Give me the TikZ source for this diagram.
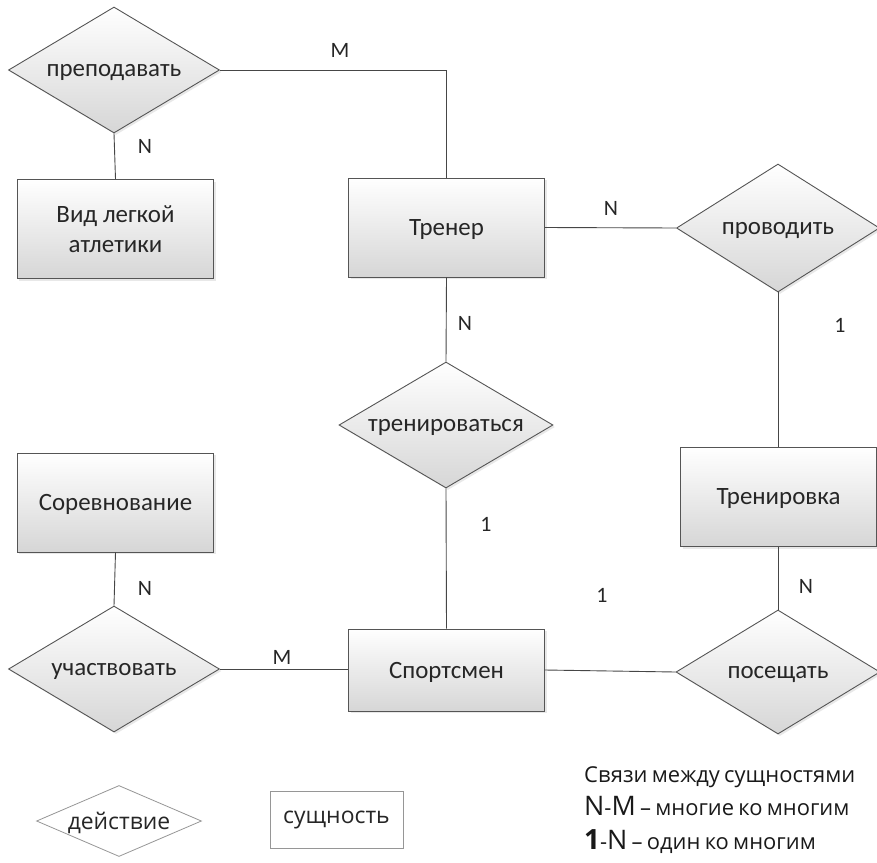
\documentclass[tikz,border=0pt]{standalone}
\usepackage{fontspec}
\setmainfont{Carlito}
\newfontfamily\legendfont[WordSpace=0.75]{Open Sans}
\usetikzlibrary{shapes.geometric,shadows}
\definecolor{edgegray}{RGB}{85,85,85}
\definecolor{linegray}{RGB}{70,70,70}
\definecolor{fillgray}{RGB}{214,214,214}
\definecolor{legendgray}{RGB}{150,150,150}
\begin{document}
\begin{tikzpicture}[x=1bp,y=-1bp,
  every node/.style={font=\fontsize{25}{29}\selectfont, text=black!85},
  entity/.style={rectangle, draw=edgegray, line width=0.9bp, top color=white, bottom color=fillgray,
    minimum width=196bp, minimum height=99bp, align=center, inner sep=0pt,
    drop shadow={opacity=0.18, shadow xshift=2bp, shadow yshift=-2bp}},
  relation/.style={diamond, draw=edgegray, line width=0.9bp, top color=white, bottom color=fillgray,
    minimum width=211bp, minimum height=126bp, inner sep=0pt, shape aspect=1.67, text depth=0pt,
    drop shadow={opacity=0.18, shadow xshift=2bp, shadow yshift=-2bp}},
  link/.style={draw=linegray, line width=0.9bp},
  card/.style={font=\fontsize{22}{26}\selectfont, text=black!85},
  legendline/.style={anchor=west, font=\legendfont\fontsize{22}{26}\selectfont, inner sep=0pt, text=black!90}]
\useasboundingbox (0,0) rectangle (877,863);

% relationships
\node[relation] (prep) at (114,70) {преподавать};
\node[relation, minimum width=203bp, minimum height=128bp] (prov) at (778,228) {проводить};
\node[relation, minimum width=214bp] (tren) at (446,425) {тренироваться};
\node[relation] (uch) at (114,669) {участвовать};
\node[relation, minimum width=204bp, minimum height=124bp] (pos) at (778,672) {посещать};

% entities
\node[entity] (vid) at (115.5,229) {Вид легкой\\[1bp]атлетики};
\node[entity, text depth=0pt] (trener) at (446.5,227.5) {Тренер};
\node[entity, text depth=0pt] (sorev) at (115.5,502.5) {Соревнование};
\node[entity, text depth=0pt] (trenirovka) at (778.5,497) {Тренировка};
\node[entity, text depth=0pt, minimum height=82bp] (sport) at (446.5,670) {Спортсмен};

% connectors
\draw[link] (prep.east) -| (trener.north);
\draw[link] (prep.south) -- (vid.north);
\draw[link] (trener.east) -- (prov.west);
\draw[link] (prov.south) -- (prov.south |- trenirovka.north);
\draw[link] (trener.south) -- (tren.north);
\draw[link] (tren.south) -- (sport.north);
\draw[link] (sorev.south) -- (uch.north);
\draw[link] (uch.east) -- (sport.west |- uch.east);
\draw[link] (sport.east) -- (pos.west);
\draw[link] (trenirovka.south) -- (trenirovka.south |- pos.north);

% cardinalities
\node[card] (c1) at (340,50) {M};
\node[card] (c2) at (145,146) {N};
\node[card] (c3) at (611,208) {N};
\node[card] (c4) at (840,325) {1};
\node[card] (c5) at (465,323) {N};
\node[card] (c6) at (486,524) {1};
\node[card] (c7) at (145,588) {N};
\node[card] (c8) at (806,586) {N};
\node[card] (c9) at (602,595) {1};
\node[card] (c10) at (282,657) {M};

% legend
\node[diamond, draw=legendgray, line width=0.8bp, fill=white, minimum width=165bp, minimum height=71bp,
  inner sep=0pt, shape aspect=2.3, text depth=0pt, font=\legendfont\fontsize{23}{26}\selectfont] (legrel) at (119,821) {действие};
\node[rectangle, draw=legendgray, line width=0.8bp, fill=white, minimum width=133bp, minimum height=57bp,
  inner sep=0pt, font=\legendfont\fontsize{23}{26}\selectfont] (legent) at (336.5,819.5) {сущность};
\node[legendline] (lg1) at (584,777) {Связи между сущностями};
\node[legendline] (lg2) at (584,806)
  {{\fontsize{27}{30}\selectfont N}-{\fontsize{27}{30}\selectfont M} – многие ко многим};
\node[legendline] (lg3) at (584,842)
  {{\fontsize{28}{30}\selectfont\bfseries 1}-{\fontsize{27}{30}\selectfont N} – один ко многим};
\end{tikzpicture}
\end{document}
